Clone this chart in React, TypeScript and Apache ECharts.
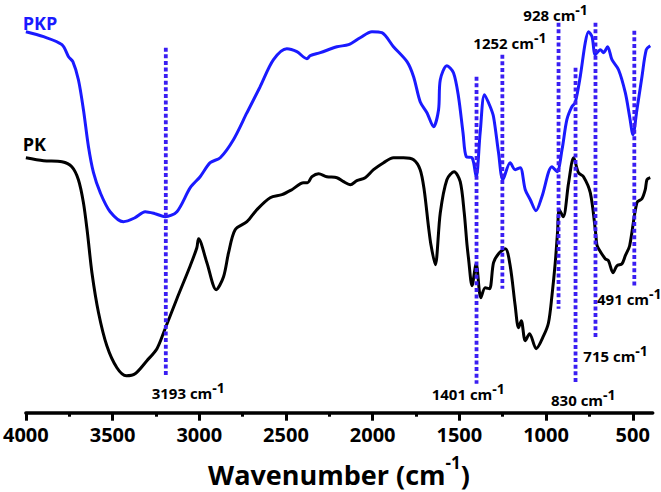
import { useEffect, useRef } from 'react';
import * as echarts from 'echarts';

// FT-IR spectra: wavenumber (cm-1) and transmittance (arbitrary units, offset)
const pkpWavenumber = [4000, 3898, 3792, 3754, 3729, 3697, 3668, 3639, 3610, 3571, 3514, 3437, 3370, 3312, 3254, 3197, 3129, 3052, 2995, 2937, 2879, 2803, 2725, 2649, 2572, 2495, 2437, 2379, 2360, 2302, 2206, 2139, 2072, 2004, 1947, 1880, 1802, 1764, 1726, 1687, 1649, 1620, 1610, 1572, 1534, 1505, 1479, 1460, 1427, 1403, 1380, 1355, 1322, 1303, 1274, 1249, 1207, 1178, 1149, 1120, 1091, 1058, 1024, 966, 937, 908, 880, 851, 832, 803, 774, 755, 735, 716, 687, 668, 645, 620, 582, 543, 518, 499, 476, 447, 422, 399];
const pkpTransmittance = [381, 376, 368, 356, 351, 333, 303, 266, 240, 220, 201, 191, 195, 201, 199, 196, 201, 225, 236, 250, 255, 273, 300, 326, 353, 364, 361, 354, 357, 360, 366, 368, 375, 381, 380, 366, 351, 336, 311, 300, 286, 303, 333, 347, 340, 316, 280, 256, 255, 236, 280, 318, 306, 296, 260, 233, 250, 243, 245, 223, 213, 202, 216, 246, 241, 263, 293, 306, 310, 336, 370, 381, 376, 358, 363, 360, 366, 353, 343, 320, 296, 278, 303, 336, 363, 367];

const pkWavenumber = [4000, 3898, 3792, 3735, 3697, 3668, 3645, 3619, 3581, 3533, 3475, 3421, 3370, 3302, 3244, 3197, 3129, 3052, 3014, 3004, 2956, 2902, 2860, 2831, 2793, 2725, 2668, 2591, 2523, 2466, 2399, 2376, 2350, 2312, 2264, 2206, 2168, 2129, 2091, 2043, 1995, 1937, 1880, 1822, 1764, 1726, 1703, 1678, 1664, 1639, 1610, 1572, 1530, 1495, 1472, 1456, 1447, 1427, 1403, 1376, 1351, 1326, 1303, 1274, 1235, 1207, 1178, 1159, 1143, 1120, 1095, 1057, 1014, 986, 966, 947, 934, 924, 901, 870, 841, 813, 784, 745, 716, 707, 697, 659, 640, 614, 591, 562, 543, 518, 476, 447, 428, 418, 399];
const pkTransmittance = [255, 252, 251, 246, 233, 210, 180, 140, 100, 67, 45, 37, 39, 52, 64, 84, 114, 147, 165, 174, 150, 123, 136, 160, 183, 191, 203, 215, 218, 223, 230, 230, 236, 239, 236, 235, 231, 228, 232, 235, 243, 250, 255, 255, 253, 243, 223, 186, 168, 148, 200, 233, 241, 231, 200, 168, 154, 127, 149, 115, 125, 124, 150, 159, 164, 147, 107, 85, 92, 72, 79, 64, 77, 90, 117, 150, 180, 203, 196, 230, 255, 240, 236, 220, 183, 168, 164, 154, 152, 140, 147, 149, 157, 167, 210, 214, 223, 233, 235];

const peakWavenumbers = [3193, 1401, 1252, 928, 830, 715, 491];
const peakLineTop = [365, 336, 358, 390, 345, 390, 382];
const peakLineBottom = [37, 29, 124, 104, 29, 74, 126];

const majorTicks = [4000, 3500, 3000, 2500, 2000, 1500, 1000, 500];
const minorTicks = [3750, 3250, 2750, 2250, 1750, 1250, 750];

const FONT = '"Open Sans", "Noto Sans", sans-serif';
const BLUE = '#1a1aff';
const DOT = '#3a1ef2';

// label placement (pixels) for each peak label, same order as peakWavenumbers
const peakLabelPos: [number, number][] = [
  [151.7, 393],
  [431.7, 394],
  [473.3, 43],
  [523.3, 15],
  [551, 400],
  [583.3, 356],
  [597, 299],
];

export default function App() {
  const ref = useRef<HTMLDivElement>(null);
  useEffect(() => {
    const chart = echarts.init(ref.current!, null, { renderer: 'svg' });
    const pkp = pkpWavenumber.map((w, i) => [-w, pkpTransmittance[i]]);
    const pk = pkWavenumber.map((w, i) => [-w, pkTransmittance[i]]);
    const dotSeries = peakWavenumbers.map((w, i) => ({
      type: 'line',
      name: `${w}`,
      data: [[-w, peakLineTop[i]], [-w, peakLineBottom[i]]],
      showSymbol: false,
      silent: true,
      z: 4,
      lineStyle: { color: DOT, width: 3.8, type: [4, 2.6] },
    }));
    const labelRich = {
      m: { fontSize: 15, fontWeight: 'bold', fontFamily: FONT, lineHeight: 26, verticalAlign: 'middle', fill: '#000' },
      s: { fontSize: 14, fontWeight: 'bold', fontFamily: FONT, lineHeight: 14, verticalAlign: 'top', fill: '#000' },
    };
    const peakLabels = peakWavenumbers.map((w, i) => ({
      type: 'text',
      x: peakLabelPos[i][0],
      y: peakLabelPos[i][1],
      style: {
        text: `{m|${w} cm}{s|-1}`,
        rich: labelRich,
        verticalAlign: 'middle',
        align: 'left',
      },
    }));
    chart.setOption({
      animation: false,
      backgroundColor: '#fff',
      grid: { left: 25.7, right: 8.3, top: 12.7, bottom: 79.3 },
      xAxis: [
        {
          type: 'value',
          min: -4000,
          max: -385,
          position: 'bottom',
          axisLine: { show: true, onZero: false, lineStyle: { color: '#000', width: 3.5 } },
          axisTick: { show: true, customValues: majorTicks.map((v) => -v), length: 8, lineStyle: { color: '#000', width: 3 } },
          axisLabel: {
            customValues: majorTicks.map((v) => -v),
            formatter: (v: number) => String(-v),
            fontSize: 20,
            fontWeight: 'bold',
            fontFamily: FONT,
            color: '#000',
            margin: 12,
          },
          splitLine: { show: false },
        },
        {
          type: 'value',
          min: -4000,
          max: -385,
          position: 'bottom',
          axisLine: { show: false, onZero: false },
          axisTick: { show: true, customValues: minorTicks.map((v) => -v), length: 4, lineStyle: { color: '#000', width: 3 } },
          axisLabel: { show: false },
          splitLine: { show: false },
        },
      ],
      yAxis: { type: 'value', min: 0, max: 400, show: false },
      series: [
        {
          type: 'line',
          name: 'PKP',
          data: pkp,
          showSymbol: false,
          smooth: 0.3,
          z: 3,
          lineStyle: { color: BLUE, width: 3 },
        },
        {
          type: 'line',
          name: 'PK',
          data: pk,
          showSymbol: false,
          smooth: 0.3,
          z: 3,
          lineStyle: { color: '#000', width: 3 },
        },
        ...dotSeries,
      ],
      graphic: [
        {
          type: 'text',
          x: 22.7,
          y: 22.7,
          style: { text: 'PKP', fill: BLUE, font: `bold 18px ${FONT}`, verticalAlign: 'middle', align: 'left' },
        },
        {
          type: 'text',
          x: 22.7,
          y: 144,
          style: { text: 'PK', fill: '#000', font: `bold 18px ${FONT}`, verticalAlign: 'middle', align: 'left' },
        },
        ...peakLabels,
        {
          type: 'text',
          x: 339,
          y: 474,
          style: {
            text: '{m|Wavenumber (cm}{s|-1}{m|)}',
            align: 'center',
            verticalAlign: 'middle',
            rich: {
              m: { fontSize: 27, fontWeight: 'bold', fontFamily: FONT, lineHeight: 40, verticalAlign: 'middle', fill: '#000' },
              s: { fontSize: 17, fontWeight: 'bold', fontFamily: FONT, lineHeight: 17, verticalAlign: 'top', fill: '#000' },
            },
          },
        },
      ],
    });
    return () => chart.dispose();
  }, []);
  return <div ref={ref} style={{ position: 'fixed', left: 0, top: 0, width: 661, height: 492 }} />;
}
